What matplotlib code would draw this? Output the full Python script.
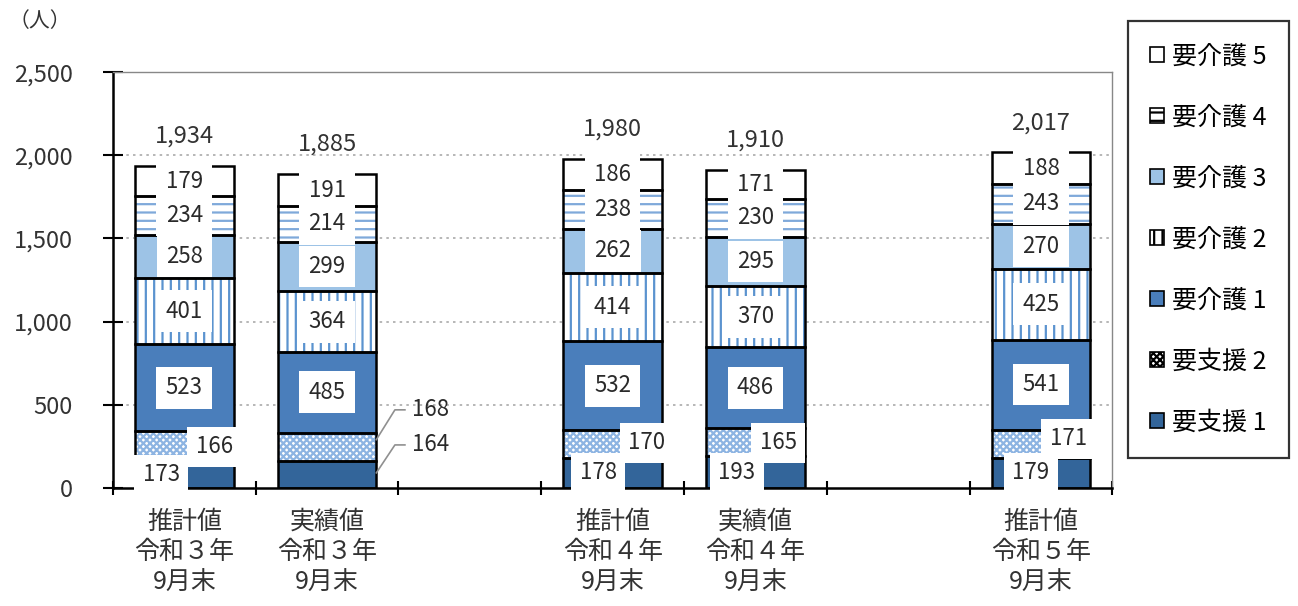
import matplotlib.pyplot as plt
from matplotlib.patches import Patch
import numpy as np

plt.rcParams['font.family'] = ['Noto Sans CJK JP', 'DejaVu Sans']

# data
categories = ['推計値\n令和３年\n9月末', '実績値\n令和３年\n9月末',
              '推計値\n令和４年\n9月末', '実績値\n令和４年\n9月末',
              '推計値\n令和５年\n9月末']
slots = [0, 1, 3, 4, 6]
levels = ['要支援１', '要支援２', '要介護１', '要介護２', '要介護３', '要介護４', '要介護５']
legend_names = ['要支援 1', '要支援 2', '要介護 1', '要介護 2', '要介護 3', '要介護 4', '要介護 5']
values = {
    '要支援１': [173, 164, 178, 193, 179],
    '要支援２': [166, 168, 170, 165, 171],
    '要介護１': [523, 485, 532, 486, 541],
    '要介護２': [401, 364, 414, 370, 425],
    '要介護３': [258, 299, 262, 295, 270],
    '要介護４': [234, 214, 238, 230, 243],
    '要介護５': [179, 191, 186, 171, 188],
}
totals = [1934, 1885, 1980, 1910, 2017]

# styles
face = ['#33659a', 'white', '#4a7ebb', 'white', '#9dc3e6', 'white', 'white']
hatches = [None, 'xxxxx', None, '||', None, '--', None]
hatch_col = ['#33659a', '#8db4e2', '#4a7ebb', '#5b93cf', '#9dc3e6', '#7fa9da', 'white']
txt_col = '#2a2a2a'

fig = plt.figure(figsize=(12.98, 6.06), dpi=100)
ax = fig.add_axes([0.087, 0.195, 0.770, 0.686])

plt.rcParams['hatch.linewidth'] = 1.6
width = 0.69
bottom = np.zeros(len(slots))
for i, lv in enumerate(levels):
    v = np.array(values[lv], dtype=float)
    ax.bar(slots, v, width, bottom=bottom, color=face[i], hatch=hatches[i],
           edgecolor=hatch_col[i], linewidth=0, zorder=2)
    ax.bar(slots, v, width, bottom=bottom, fill=False, edgecolor='black',
           linewidth=1.8, zorder=3)
    bottom += v

# segment labels
box = dict(boxstyle='square,pad=0.42', fc='white', ec='none')
cum = np.zeros(len(slots))
for i, lv in enumerate(levels):
    v = np.array(values[lv], dtype=float)
    if i >= 2:
        for j, x in enumerate(slots):
            ax.text(x, cum[j] + v[j] / 2, str(int(v[j])), ha='center', va='center',
                    fontsize=16, color=txt_col, bbox=box, zorder=5)
    cum += v

# bottom two segments: labels placed off-centre as in the original
low_dx = [-0.16, None, -0.10, -0.13, -0.07]
low_y = [78, None, 90, 90, 90]
mid_dx = [0.21, None, 0.24, 0.16, 0.19]
mid_y = [248, None, 270, 270, 295]
box2 = dict(boxstyle='square,pad=0.38', fc='white', ec='none')
for j, x in enumerate(slots):
    if low_dx[j] is None:
        continue
    ax.text(x + low_dx[j], low_y[j], str(values['要支援１'][j]), ha='center', va='center',
            fontsize=16, color=txt_col, bbox=box2, zorder=5)
    ax.text(x + mid_dx[j], mid_y[j], str(values['要支援２'][j]), ha='center', va='center',
            fontsize=16, color=txt_col, bbox=box2, zorder=5)

# second bar: labels outside with leader lines
edge = slots[1] + width / 2
s1 = values['要支援１'][1]
s2 = values['要支援２'][1]
for start, lab_y, txt in [(s1 + s2 * 0.75, 469, s2), (s1 * 0.55, 258, s1)]:
    ax.plot([edge, edge + 0.13, edge + 0.2], [start, lab_y, lab_y],
            color='#909090', linewidth=1.2, zorder=4, clip_on=False)
    ax.text(edge + 0.25, lab_y, str(txt), ha='left', va='center',
            fontsize=16, color=txt_col, zorder=5)

# totals
for x, t in zip(slots, totals):
    ax.text(x, t + 110, f'{t:,}', ha='center', va='bottom', fontsize=17, color='#333333')

ax.set_xlim(-0.5, 6.5)
ax.set_ylim(0, 2500)
ax.set_yticks(range(0, 2501, 500))
ax.set_yticklabels([f'{t:,}' for t in range(0, 2501, 500)], fontsize=17, color='#333333')
ax.set_xticks(np.arange(-0.5, 6.6, 1.0))
ax.set_xticklabels([])
ax.set_xticks(slots, minor=True)
ax.set_xticklabels(categories, minor=True, fontsize=18, color='#333333', linespacing=1.22)
ax.tick_params(axis='x', which='minor', length=0, pad=15)
ax.tick_params(axis='x', which='major', direction='inout', length=10, width=1.5)
ax.tick_params(axis='y', direction='inout', length=14, width=1.5, pad=22)
for yv in range(500, 2001, 500):
    ax.axhline(yv, color='#aaaaaa', linestyle=(0, (1.5, 2.5)), linewidth=1.2, zorder=1)
ax.spines['left'].set_linewidth(1.8)
ax.spines['bottom'].set_linewidth(1.8)
ax.spines['top'].set_color('#888888')
ax.spines['right'].set_color('#888888')
ax.spines['top'].set_linewidth(1.0)
ax.spines['right'].set_linewidth(1.0)

fig.text(0.031, 0.966, '（人）', fontsize=15, color='#333333', ha='center', va='center')

handles = [Patch(facecolor=face[i], hatch=hatches[i], edgecolor='black', linewidth=1.2)
           for i in range(len(levels))]
leg = fig.legend(handles[::-1], legend_names[::-1], loc='upper left',
                 bbox_to_anchor=(0.869, 0.965), fontsize=18, frameon=True, fancybox=False,
                 edgecolor='black', labelspacing=1.4, handlelength=0.55, handleheight=0.55,
                 handletextpad=0.3, borderpad=0.9, borderaxespad=0)
leg.get_frame().set_linewidth(1.6)

fig.savefig('out.png', dpi=100)
